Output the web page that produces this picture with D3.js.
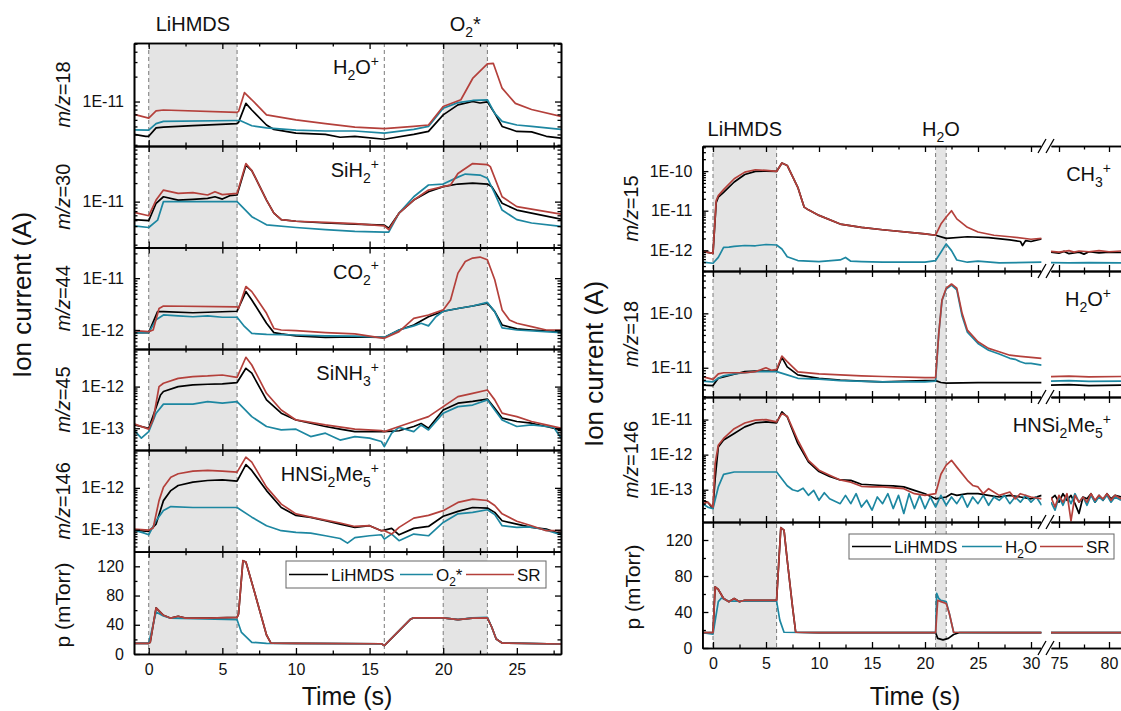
<!DOCTYPE html>
<html>
<head>
<meta charset="utf-8">
<script src="https://cdn.jsdelivr.net/npm/d3@7"></script>
<style>
  body { margin: 0; background: #fff; }
  svg { font-family: "Liberation Sans", Arial, Helvetica, sans-serif; }
</style>
</head>
<body>
<svg id="chart" width="1121" height="711"></svg>
<script>
// ---------- data: left figure (LiHMDS / O2* / SR), [time s, value] ----------
const l18_lihmds = [[-1,4.0e-12],[-0.2,3.8e-12],[0,3.8e-12],[0.5,4.8e-12],[1,4.9e-12],[3,5.1e-12],[6,5.4e-12],[6.1,5.6e-12],[6.6,9.5e-12],[7,7.9e-12],[8,5.2e-12],[8.5,4.6e-12],[10,4.15e-12],[12,4.0e-12],[13,3.7e-12],[14,3.8e-12],[16,3.5e-12],[18,4.0e-12],[19,4.35e-12],[20,6.9e-12],[21,9.1e-12],[22,1.0e-11],[22.5,9.6e-12],[23,9.9e-12],[23.5,7.2e-12],[24,5.0e-12],[25,4.35e-12],[26,4.3e-12],[27,3.8e-12],[28,3.6e-12]]
const l18_o2 = [[-1,4.55e-12],[0,4.5e-12],[0.5,5.4e-12],[1,5.75e-12],[6,5.9e-12],[6.2,5.9e-12],[7,5.1e-12],[8,4.8e-12],[10,4.5e-12],[12,4.4e-12],[14,4.4e-12],[16,4.15e-12],[18,4.6e-12],[19,5.0e-12],[20,8.3e-12],[21,9.7e-12],[22,1.03e-11],[23,1.05e-11],[23.5,7.2e-12],[24,5.75e-12],[25,5.2e-12],[26,5.0e-12],[28,4.6e-12]]
const l18_sr = [[-1,7.0e-12],[0,6.3e-12],[0.5,7.7e-12],[1,7.9e-12],[6,7.4e-12],[6.1,7.6e-12],[6.5,1.28e-11],[7,1.05e-11],[8,6.9e-12],[10,6.0e-12],[12,5.4e-12],[14,4.9e-12],[16,4.7e-12],[18,5.0e-12],[19,5.2e-12],[20,8.7e-12],[21.2,1.05e-11],[22,1.9e-11],[23,2.85e-11],[23.4,2.9e-11],[24,1.45e-11],[24.9,9.5e-12],[26,8.0e-12],[28,6.6e-12]]

const l30_lihmds = [[-1,5.1e-12],[0,4.9e-12],[0.5,9.4e-12],[1,1.2e-11],[2,1.06e-11],[3,1.09e-11],[4,1.13e-11],[4.5,1.2e-11],[5,1.1e-11],[5.5,1.25e-11],[6,1.28e-11],[6.6,3.9e-11],[7,3.2e-11],[8,1.06e-11],[8.5,6.5e-12],[9,5.1e-12],[10,4.8e-12],[12,4.5e-12],[14,4.3e-12],[16,4.15e-12],[16.3,3.7e-12],[17,6.5e-12],[18,1.06e-11],[19,1.45e-11],[20,1.75e-11],[21,1.93e-11],[22,2.0e-11],[23,1.93e-11],[23.3,1.75e-11],[24,9.4e-12],[25,7.3e-12],[28,5.2e-12]]
const l30_o2 = [[-1,4.05e-12],[0,3.8e-12],[0.6,5.0e-12],[1,1.0e-11],[6,1.0e-11],[7,5.7e-12],[8,4.2e-12],[10,3.8e-12],[12,3.5e-12],[14,3.3e-12],[16,3.2e-12],[16.3,3.2e-12],[17,6.5e-12],[18,1.2e-11],[19,1.86e-11],[20,1.93e-11],[21,2.5e-11],[21.5,2.8e-11],[22.5,2.7e-11],[23,2.4e-11],[23.5,1.36e-11],[24,7.3e-12],[25,5.1e-12],[26,4.5e-12],[28,3.95e-12]]
const l30_sr = [[-1,6.7e-12],[0,5.9e-12],[0.5,1.06e-11],[1,1.54e-11],[2,1.36e-11],[3,1.4e-11],[4,1.28e-11],[4.5,1.45e-11],[5,1.3e-11],[6,1.36e-11],[6.6,4.15e-11],[7,3.2e-11],[8,1.06e-11],[8.5,6.5e-12],[9,5.1e-12],[10,4.8e-12],[12,4.6e-12],[14,4.4e-12],[16,4.05e-12],[16.3,3.5e-12],[17,6.5e-12],[18,1.06e-11],[19,1.54e-11],[20,1.75e-11],[20.5,1.86e-11],[21,2.86e-11],[22,4.15e-11],[23,4.0e-11],[23.2,3.7e-11],[24,1.2e-11],[25,8.3e-12],[28,6.25e-12]]

const l44_lihmds = [[-1,8.9e-13],[0,8.9e-13],[0.6,2.26e-12],[1,2.26e-12],[3,2.15e-12],[4,2.2e-12],[6,2.3e-12],[6.6,5.5e-12],[7,3.8e-12],[8,1.35e-12],[8.5,8.9e-13],[9,8.4e-13],[10,7.7e-13],[12,7.2e-13],[14,7.4e-13],[16,7.2e-13],[17,1.0e-12],[18,1.25e-12],[19,1.8e-12],[20,2.3e-12],[21,2.6e-12],[22,2.9e-12],[23,3.3e-12],[23.5,2.26e-12],[24,1.25e-12],[25,1.05e-12],[26,1.0e-12],[28,9.3e-13]]
const l44_o2 = [[-1,8.9e-13],[0,8.9e-13],[0.5,1.58e-12],[1,1.95e-12],[2,1.87e-12],[3,1.8e-12],[4,1.87e-12],[5,1.76e-12],[6,1.76e-12],[6.5,1.17e-12],[7,8.6e-13],[8,8.2e-13],[10,8.0e-13],[12,7.7e-13],[14,7.6e-13],[16,7.2e-13],[17,1.0e-12],[18,1.2e-12],[18.5,1.35e-12],[19,1.2e-12],[19.5,1.8e-12],[20,2.3e-12],[21,2.6e-12],[22,2.9e-12],[23,3.4e-12],[23.5,2.26e-12],[24,1.1e-12],[25,1.0e-12],[28,8.9e-13]]
const l44_sr = [[-1,9.7e-13],[0,9.3e-13],[0.3,1.0e-12],[0.7,2.6e-12],[1,2.9e-12],[6,2.8e-12],[6.1,2.6e-12],[6.6,6.9e-12],[7,5.5e-12],[8,2.1e-12],[8.5,1.07e-12],[9,1.0e-12],[10,9.7e-13],[12,8.9e-13],[14,8.4e-13],[16,6.9e-13],[17,9.3e-13],[18,1.68e-12],[19,1.95e-12],[20,2.44e-12],[20.5,3.8e-12],[21,1.25e-11],[21.5,2.1e-11],[22,2.44e-11],[22.5,2.55e-11],[23,2.26e-11],[23.5,9.3e-12],[24,2.44e-12],[24.5,1.56e-12],[25,1.35e-12],[26,1.16e-12],[27,1.0e-12],[28,1.0e-12]]

const l45_lihmds = [[-1,1.2e-13],[0,1.0e-13],[0.8,6.3e-13],[1,7.6e-13],[2,1.0e-12],[3,1.1e-12],[4,1.14e-12],[5,1.16e-12],[6,1.25e-12],[6.6,2.75e-12],[7,2.1e-12],[8,4.8e-13],[9,2.3e-13],[10,1.58e-13],[12,1.1e-13],[13,9.5e-14],[14,8.3e-14],[16,8.3e-14],[17,8.7e-14],[18,1.1e-13],[18.5,1.3e-13],[19,1.0e-13],[20,2.75e-13],[21,4.0e-13],[22,4.4e-13],[23,5.0e-13],[23.5,3.0e-13],[24,1.75e-13],[25,1.45e-13],[26,1.32e-13],[27,1.1e-13],[28,9.1e-14]]
const l45_o2 = [[-1,9e-14],[-0.5,5.8e-14],[0,8.3e-14],[0.5,2.3e-13],[1,3.8e-13],[3,3.8e-13],[4,4.35e-13],[5,4.0e-13],[6,4.35e-13],[7,1.9e-13],[8,1.1e-13],[9,9.1e-14],[10,9.5e-14],[11,6.3e-14],[12,7.6e-14],[13,5.2e-14],[14,6.3e-14],[15,5.8e-14],[15.8,4.8e-14],[16,3.6e-14],[16.5,7.6e-14],[17,1.05e-13],[18,8.3e-14],[18.5,1.2e-13],[19,9.1e-14],[20,2.3e-13],[21,3.3e-13],[22,3.6e-13],[23,4.8e-13],[23.5,2.75e-13],[24,1.58e-13],[25,1.1e-13],[26,1.2e-13],[27,1.1e-13],[27.5,1.05e-13],[28,5.8e-14]]
const l45_sr = [[-1,1.27e-13],[0,9.5e-14],[0.3,1.6e-13],[0.7,1.0e-12],[1,1.2e-12],[2,1.58e-12],[3,1.74e-12],[4,1.8e-12],[5,1.9e-12],[6,1.67e-12],[6.6,5.06e-12],[7,3.3e-12],[8,6.9e-13],[9,2.75e-13],[10,1.58e-13],[12,1.2e-13],[14,9.5e-14],[15.8,8.8e-14],[16,8.3e-14],[17,1.1e-13],[18,1.45e-13],[19,1.9e-13],[20,3.3e-13],[21,5.75e-13],[22,6.9e-13],[23,8.3e-13],[23.5,4.8e-13],[24,2.3e-13],[25,1.9e-13],[26,1.45e-13],[27,1.2e-13],[28,1.0e-13]]

const l146_lihmds = [[-1,9.8e-14],[0,9.1e-14],[0.5,1.37e-13],[1,4.96e-13],[1.5,8.6e-13],[2,1.14e-12],[3,1.37e-12],[4,1.5e-12],[5,1.55e-12],[6,1.45e-12],[6.6,3.6e-12],[7,2.6e-12],[8,8.6e-13],[9,3.4e-13],[10,2.2e-13],[11,1.98e-13],[12,1.64e-13],[13,1.37e-13],[14,1.14e-13],[15,1.25e-13],[15.8,9.5e-14],[16,9.8e-14],[16.5,1.08e-13],[17,7.6e-14],[18,1.08e-13],[19,1.2e-13],[20,2.1e-13],[21,2.75e-13],[22,3.4e-13],[23,3.3e-13],[23.5,2.6e-13],[24,1.64e-13],[25,1.37e-13],[26,1.14e-13],[27,1.04e-13],[28,7.9e-14]]
const l146_o2 = [[-1,9.8e-14],[-0.3,8.3e-14],[0,7.6e-14],[0.5,1.65e-13],[1,2.9e-13],[1.5,3.57e-13],[3,3.4e-13],[6,3.4e-13],[7,2.0e-13],[8,1.25e-13],[9,9.5e-14],[10,8.7e-14],[11,8.3e-14],[12,7.2e-14],[13,6.2e-14],[13.5,4.8e-14],[14,6.5e-14],[15,7.2e-14],[15.8,7.6e-14],[16,6.0e-14],[16.5,7.9e-14],[17,5.5e-14],[18,7.9e-14],[19,7.2e-14],[20,1.5e-13],[21,2.4e-13],[22,2.6e-13],[23,3.0e-13],[23.5,2.3e-13],[24,1.25e-13],[25,1.14e-13],[26,1.17e-13],[27,9.8e-14],[28,7.6e-14]]
const l146_sr = [[-1,1.04e-13],[0,9.8e-14],[0.3,1.1e-13],[0.7,4.96e-13],[1,1.04e-12],[1.5,1.8e-12],[2,2.17e-12],[3,2.5e-12],[4,2.6e-12],[5,2.5e-12],[6,2.38e-12],[6.6,5.4e-12],[7,4.1e-12],[8,1.04e-12],[9,4.1e-13],[10,2.4e-13],[11,2.0e-13],[12,1.7e-13],[13,1.45e-13],[14,1.2e-13],[15,1.25e-13],[15.8,9.5e-14],[16,9.5e-14],[16.5,7.9e-14],[17,1.14e-13],[18,1.9e-13],[19,2.2e-13],[20,2.86e-13],[21,4.5e-13],[22,5.4e-13],[23,5.0e-13],[23.5,3.8e-13],[24,2.4e-13],[25,1.6e-13],[26,1.25e-13],[27,9.5e-14],[28,9.5e-14]]

const lp_lihmds = [[-1,14.5],[0,14.5],[0.1,16],[0.5,63],[1,53],[1.5,49],[2,51.6],[2.5,49],[4,49],[6,50],[6.1,55],[6.4,127.7],[6.6,126],[7,98],[8,26],[8.3,15],[10,14.5],[15.8,14],[16,11.5],[17.8,48],[18,49.5],[20,49.5],[21,47],[22,49],[23,49.5],[23.3,36.6],[23.6,20.6],[24,15],[28,13.7]]
const lp_o2 = [[-1,14.5],[0,14.5],[0.5,57.5],[1,52],[1.5,49],[6,47],[6.3,29.5],[7,16],[8,14.5],[15.8,14],[16,11.5],[17.8,48],[18,49.5],[20,49.5],[21,47],[22,49.5],[23,50],[23.3,36.6],[23.6,20.6],[24,15],[28,13.7]]
const lp_sr = [[-1,14.5],[0,14.5],[0.1,16],[0.5,63],[1,53],[1.5,49],[2,51.6],[2.5,49],[4,49],[6,50],[6.1,55],[6.4,127.7],[6.6,126],[7,98],[8,26],[8.3,15],[10,14.5],[15.8,14],[16,11.5],[17.8,48],[18,49.5],[20,49.5],[21,47],[22,49],[23,49.5],[23.3,36.6],[23.6,20.6],[24,15],[28,13.7]]

// ---------- data: right figure (LiHMDS / H2O / SR), second block after the axis break ----------
const r15_lihmds = [[-1,9.4e-13],[0,8.4e-13],[0.3,1.6e-11],[0.5,2.2e-11],[1,2.9e-11],[2,5.3e-11],[3,8.2e-11],[4,9.8e-11],[5,1.0e-10],[6,9.8e-11],[6.5,1.6e-10],[7,1.39e-10],[8,3.9e-11],[8.6,1.23e-11],[9,1.05e-11],[10,7.6e-12],[12,4.6e-12],[14,3.8e-12],[16,3.3e-12],[20,2.6e-12],[21,2.4e-12],[22,2.0e-12],[24,2.2e-12],[26,2.1e-12],[28,1.83e-12],[29,1.67e-12],[29.2,1.32e-12],[29.5,1.76e-12],[30,1.67e-12],[31,1.94e-12],
  [74.2,9.0e-13],[75,8.5e-13],[75.5,9.4e-13],[76,8.2e-13],[77,9.0e-13],[77.5,8.0e-13],[78,9.2e-13],[79,8.6e-13],[80,9.0e-13],[81.2,8.8e-13]]
const r15_h2o = [[-1,5e-13],[0,4.7e-13],[0.5,6.6e-13],[1,1.19e-12],[1.5,1.2e-12],[2,1.25e-12],[3,1.32e-12],[4,1.3e-12],[5,1.4e-12],[6,1.36e-12],[6.5,1.08e-12],[7,6.9e-13],[8,5.5e-13],[10,5.2e-13],[12,5.7e-13],[12.5,6.6e-13],[13,5.3e-13],[14,5.2e-13],[16,5e-13],[20,5e-13],[21,5.5e-13],[21.5,8.9e-13],[22,1.45e-12],[22.5,9.8e-13],[23,5.7e-13],[24,5e-13],[25,5.3e-13],[27,4.8e-13],[31,5e-13],
  [74.2,4.9e-13],[76,4.8e-13],[78,4.9e-13],[81.2,4.8e-13]]
const r15_sr = [[-1,9.4e-13],[0,8.4e-13],[0.3,1.8e-11],[0.5,2.4e-11],[1,3.4e-11],[2,6.4e-11],[3,9.4e-11],[4,1.08e-10],[5,1.04e-10],[6,9.8e-11],[6.5,1.6e-10],[7,1.39e-10],[8,3.9e-11],[8.6,1.23e-11],[9,1.05e-11],[10,7.6e-12],[12,4.6e-12],[14,3.8e-12],[16,3.3e-12],[20,2.6e-12],[21,2.4e-12],[21.5,4.6e-12],[22,6.9e-12],[22.5,1.0e-11],[23,6.2e-12],[24,3.8e-12],[25,2.9e-12],[26.5,2.4e-12],[28,2.2e-12],[30,1.9e-12],[31,2.0e-12],
  [74.2,9.4e-13],[75,9.0e-13],[76,9.8e-13],[76.5,9.0e-13],[77,9.6e-13],[78,9.2e-13],[79,9.8e-13],[80,9.2e-13],[81.2,9.6e-13]]

const r18_lihmds = [[-1,4.8e-12],[0,4.7e-12],[0.5,6.4e-12],[1,6.8e-12],[2,7.6e-12],[3,8.5e-12],[4,8.7e-12],[5,8.7e-12],[6,8.8e-12],[6.5,1.55e-11],[7,1.04e-11],[8,7.4e-12],[10,6.4e-12],[12,5.95e-12],[14,5.7e-12],[16,5.5e-12],[20,5.8e-12],[21,5.8e-12],[21.5,5.35e-12],[22,5.2e-12],[25,5.35e-12],[31,5.35e-12],
  [74.2,4.8e-12],[76,4.9e-12],[78,4.7e-12],[81.2,4.8e-12]]
const r18_h2o = [[-1,5.7e-12],[0,5.5e-12],[0.5,6.4e-12],[1,7.1e-12],[2,7.7e-12],[3,8.1e-12],[4,8.5e-12],[6,8.5e-12],[7,7.4e-12],[8,6.4e-12],[10,6.2e-12],[12,5.8e-12],[16,5.5e-12],[20,5.5e-12],[21,5.7e-12],[21.3,4.3e-11],[21.6,1.7e-10],[22,2.8e-10],[22.5,3.3e-10],[23,2.7e-10],[23.5,8.9e-11],[24,4.5e-11],[25,2.8e-11],[26,2.1e-11],[27,1.79e-11],[28,1.49e-11],[28.5,1.43e-11],[29,1.29e-11],[29.5,1.2e-11],[30,1.2e-11],[31,1.12e-11],
  [74.2,5.7e-12],[76,5.8e-12],[78,5.6e-12],[81.2,5.7e-12]]
const r18_sr = [[-1,6.85e-12],[0,6.1e-12],[0.5,7.7e-12],[1,8.1e-12],[3,8.1e-12],[4,8.5e-12],[4.5,9.2e-12],[5,1.0e-11],[5.5,9.0e-12],[6,9.3e-12],[6.5,1.64e-11],[7,1.3e-11],[8,8.4e-12],[10,7.7e-12],[12,7.4e-12],[14,7.1e-12],[16,6.9e-12],[20,6.6e-12],[21,6.6e-12],[21.3,4.3e-11],[21.6,1.76e-10],[22,2.9e-10],[22.5,3.46e-10],[23,2.9e-10],[23.5,1.0e-10],[24,4.9e-11],[25,3.0e-11],[26,2.27e-11],[27,1.97e-11],[28,1.7e-11],[29,1.62e-11],[30,1.55e-11],[31,1.49e-11],
  [74.2,6.85e-12],[76,7.0e-12],[78,6.8e-12],[81.2,6.9e-12]]

const r146_lihmds = [[-1,5.0e-14],[-0.5,4.4e-14],[0,2.9e-14],[0.2,2.0e-13],[0.5,1.66e-12],[1,2.6e-12],[2,4.0e-12],[3,6.2e-12],[4,8.0e-12],[5,8.6e-12],[6,8.0e-12],[6.5,1.66e-11],[7,1.2e-11],[8,2.1e-12],[9,6.2e-13],[10,3.3e-13],[11,2.4e-13],[12,1.9e-13],[13,1.85e-13],[14,1.43e-13],[16,1.32e-13],[17,1.28e-13],[18,1.2e-13],[19,9.6e-14],[20,7.7e-14],[21,5.5e-14],[22,6.2e-14],[22.5,7.7e-14],[23,6.9e-14],[24,7.7e-14],[25,7.7e-14],[26,6.9e-14],[27,6.2e-14],[28,6.9e-14],[29,6.2e-14],[30,5.5e-14],[31,6.9e-14],
  [74.2,5.5e-14],[74.6,6.9e-14],[75,4.4e-14],[75.4,7.7e-14],[75.8,5.0e-14],[76.2,6.9e-14],[76.6,4.0e-14],[77,2.1e-14],[77.4,6.2e-14],[77.8,5.5e-14],[78.2,7.7e-14],[78.6,4.4e-14],[79,6.9e-14],[79.4,5.0e-14],[79.8,7.7e-14],[80.2,5.5e-14],[80.6,6.9e-14],[81.2,6.2e-14]]
const r146_h2o = [[-1,4.0e-14],[-0.5,3.2e-14],[0,2.9e-14],[0.5,1.2e-13],[1,2.75e-13],[2,3.2e-13],[4,3.2e-13],[6,3.2e-13],[7,1.3e-13],[7.5,1.0e-13],[8,9e-14],[8.5,1.1e-13],[9,6.9e-14],[9.5,9.6e-14],[10,5.0e-14],[10.5,8.2e-14],[11,5.5e-14],[12,4.0e-14],[12.5,6.9e-14],[13,4.0e-14],[13.5,7.7e-14],[14,3.2e-14],[14.5,5.0e-14],[15,2.6e-14],[15.5,6.2e-14],[16,4.0e-14],[16.5,7.7e-14],[17,2.9e-14],[17.5,6.9e-14],[18,2.1e-14],[18.5,7.7e-14],[19,2.9e-14],[19.5,6.9e-14],[20,2.9e-14],[20.5,6.2e-14],[21,3.2e-14],[21.5,6.9e-14],[22,3.6e-14],[22.5,6.2e-14],[23,4.0e-14],[23.5,6.9e-14],[24,3.2e-14],[24.5,6.2e-14],[25,4.0e-14],[25.5,6.9e-14],[26,3.6e-14],[26.5,6.2e-14],[27,5.0e-14],[27.5,6.9e-14],[28,4.0e-14],[28.5,6.2e-14],[29,4.4e-14],[29.5,6.9e-14],[30,4.4e-14],[30.5,6.2e-14],[31,3.6e-14],
  [74.2,4.4e-14],[74.6,2.6e-14],[75,6.2e-14],[75.4,3.6e-14],[75.8,6.9e-14],[76.2,4.0e-14],[76.6,7.7e-14],[77,4.4e-14],[77.4,6.2e-14],[77.8,3.6e-14],[78.2,6.9e-14],[78.6,4.4e-14],[79,6.2e-14],[79.4,5.0e-14],[79.8,6.9e-14],[80.2,4.4e-14],[80.6,6.2e-14],[81.2,5.0e-14]]
const r146_sr = [[-1,4.0e-14],[-0.5,4.4e-14],[0,3.2e-14],[0.2,5.5e-13],[0.5,1.85e-12],[1,2.9e-12],[2,5.5e-12],[3,8.0e-12],[4,9.6e-12],[5,1.0e-11],[6,8.6e-12],[6.5,1.48e-11],[7,1.25e-11],[8,2.57e-12],[9,6.9e-13],[10,3.6e-13],[11,2.6e-13],[12,1.9e-13],[13,1.64e-13],[14,1.25e-13],[15,1.2e-13],[16,1.2e-13],[18,1.07e-13],[19,7.7e-14],[20,6.9e-14],[21,7.7e-14],[21.5,2.75e-13],[22,5.0e-13],[22.5,6.9e-13],[23,4.4e-13],[24,1.85e-13],[24.5,1.32e-13],[25,1.2e-13],[25.5,7.7e-14],[26,1.07e-13],[27,6.9e-14],[28,8.6e-14],[28.5,5.5e-14],[29,7.7e-14],[30,6.2e-14],[31,5.5e-14],
  [74.2,6.2e-14],[74.6,3.2e-14],[75,6.9e-14],[75.4,4.4e-14],[75.8,7.7e-14],[76.2,1.3e-14],[76.6,6.9e-14],[77,4.4e-14],[77.4,6.2e-14],[77.8,4.4e-14],[78.2,7.7e-14],[78.6,5.0e-14],[79,6.9e-14],[79.4,5.5e-14],[79.8,7.7e-14],[80.2,5.0e-14],[80.6,6.9e-14],[81.2,5.5e-14]]

const rp_lihmds = [[-1,17],[0,17],[0.2,68],[0.5,65],[1,55],[1.5,51.5],[2,55],[2.5,51.5],[3,53],[6,53],[6.2,94],[6.4,133.7],[6.7,131],[7,98],[7.5,46],[7.8,17.5],[10,17],[21,17],[21.2,10.7],[21.7,9],[22.2,10.7],[22.7,15],[23.2,17],[31,17],
  [74.2,17],[81.2,17]]
const rp_h2o = [[-1,17],[0,15.5],[0.5,51.5],[0.8,55.5],[1.5,52],[6,52],[6.3,31],[6.7,17.5],[10,17],[21,17],[21.1,60.7],[21.3,55],[21.5,53],[22,51.5],[22.3,38],[22.7,17.5],[31,17],
  [74.2,17],[81.2,17]]
const rp_sr = [[-1,17],[0,17],[0.2,68],[0.5,65],[1,55],[1.5,51.5],[2,55],[2.5,51.5],[3,53],[6,53],[6.2,94],[6.4,133.7],[6.7,131],[7,98],[7.5,46],[7.8,17.5],[10,17],[21,17],[21.2,53],[21.5,51.5],[22,49.5],[22.3,38],[22.7,17.5],[31,17],
  [74.2,17],[81.2,17]]

// axis ranges and ticks
const leftTime = [-1, 28]
const leftMajor = [0, 5, 10, 15, 20, 25]
const leftMinor = [2.5, 7.5, 12.5, 17.5, 22.5, 27.5]
const rightTime1 = [-1, 31]
const rightMajor1 = [0, 5, 10, 15, 20, 25, 30]
const rightMinor1 = [2.5, 7.5, 12.5, 17.5, 22.5, 27.5]
const rightTime2 = [74.2, 81.2]
const rightMajor2 = [75, 80]
const rightMinor2 = [77.5]
const pressureMajor = [0, 40, 80, 120]
const pressureMinor = [20, 60, 100]
const legendLeft = ['LiHMDS', 'O_{2}*', 'SR']
const legendRight = ['LiHMDS', 'H_{2}O', 'SR']

const COLORS = ['#000000', '#1d87a1', '#b4403b']
const svg = d3.select('#chart')

// text with _{sub} and ^{sup}
function rich (text, str, size) {
    let shift = 0
    const re = /([_^])\{([^}]*)\}|([^_^]+)/g
    let m
    while ((m = re.exec(str)) !== null) {
        let target = 0, fs = size, t = m[3]
        if (m[1] === '_') { target = size * 0.3; fs = size * 0.7; t = m[2] }
        if (m[1] === '^') { target = -size * 0.42; fs = size * 0.7; t = m[2] }
        text.append('tspan').attr('dy', target - shift).attr('font-size', fs).text(t)
        shift = target
    }
    return text
}

function styleAxis (g) {
    g.select('.domain').attr('stroke', '#000').attr('stroke-width', 1.6)
    g.selectAll('.tick line').attr('stroke', '#000').attr('stroke-width', 1.3)
    g.selectAll('.tick text').attr('font-size', 16).attr('fill', '#111')
        .attr('font-family', '"Liberation Sans", Arial, sans-serif')
}

const logFmt = d => '1E' + Math.round(Math.log10(d))
const isDecade = d => Math.abs(Math.log10(d) - Math.round(Math.log10(d))) < 1e-6

function drawFigure (fig) {
    const g = svg.append('g')
    const top = fig.rows[0]
    const bottom = fig.rows[fig.rows.length - 1]
    const x0 = fig.segs[0].x

    fig.shade.forEach(([a, b]) => {
        g.append('rect')
            .attr('x', x0(a)).attr('y', top)
            .attr('width', x0(b) - x0(a)).attr('height', bottom - top)
            .attr('fill', '#e4e4e4')
    })
    fig.dashes.forEach(t => {
        g.append('line')
            .attr('x1', x0(t)).attr('x2', x0(t)).attr('y1', top).attr('y2', bottom)
            .attr('stroke', '#7a7a7a').attr('stroke-width', 1).attr('stroke-dasharray', '4,3')
    })

    fig.panels.forEach((panel, i) => {
        const y0 = fig.rows[i]
        const y1 = fig.rows[i + 1]
        const y = panel.log
            ? d3.scaleLog().domain(panel.domain).range([y1, y0])
            : d3.scaleLinear().domain(panel.domain).range([y1, y0])
        const last = i === fig.panels.length - 1

        fig.segs.forEach((seg, si) => {
            const [xa, xb] = seg.x.range()
            const [da, db] = seg.x.domain()
            const id = `clip-${fig.id}-${i}-${si}`
            svg.append('clipPath').attr('id', id).append('rect')
                .attr('x', xa).attr('y', y0).attr('width', xb - xa).attr('height', y1 - y0)
            const line = d3.line().x(d => seg.x(d[0])).y(d => y(d[1]))
            panel.series.forEach((data, k) => {
                const pts = data.filter(d => d[0] >= da - 0.5 && d[0] <= db + 0.5)
                if (pts.length < 2) return
                g.append('path').datum(pts)
                    .attr('d', line)
                    .attr('clip-path', `url(#${id})`)
                    .attr('fill', 'none')
                    .attr('stroke', COLORS[k])
                    .attr('stroke-width', 1.7)
                    .attr('stroke-linejoin', 'round')
            })

            // top and bottom frame with inward ticks
            g.append('g').attr('transform', `translate(0,${y0})`)
                .call(d3.axisTop(seg.x).tickValues(seg.minor).tickSize(-3.5).tickSizeOuter(0).tickFormat(''))
                .call(styleAxis)
            g.append('g').attr('transform', `translate(0,${y0})`)
                .call(d3.axisTop(seg.x).tickValues(seg.major).tickSize(-6).tickSizeOuter(0).tickFormat(''))
                .call(styleAxis)
            g.append('g').attr('transform', `translate(0,${y1})`)
                .call(d3.axisBottom(seg.x).tickValues(seg.minor).tickSize(-3.5).tickSizeOuter(0).tickFormat(''))
                .call(styleAxis)
            g.append('g').attr('transform', `translate(0,${y1})`)
                .call(d3.axisBottom(seg.x).tickValues(seg.major).tickSize(-6).tickSizeOuter(0)
                    .tickPadding(10).tickFormat(last ? d3.format('d') : ''))
                .call(styleAxis)
        })

        // y axes
        let major, minor, fmt
        if (panel.log) {
            const all = y.ticks(20)
            major = all.filter(isDecade)
            minor = all.filter(d => !isDecade(d))
            fmt = logFmt
        } else {
            major = pressureMajor
            minor = pressureMinor
            fmt = d3.format('d')
        }
        const xl = x0.range()[0]
        g.append('g').attr('transform', `translate(${xl},0)`)
            .call(d3.axisLeft(y).tickValues(minor).tickSize(-3.5).tickSizeOuter(0).tickFormat(''))
            .call(styleAxis)
        g.append('g').attr('transform', `translate(${xl},0)`)
            .call(d3.axisLeft(y).tickValues(major).tickSize(-6).tickSizeOuter(0).tickPadding(10).tickFormat(fmt))
            .call(styleAxis)
        if (fig.rightAxis) {
            const xr = fig.segs[fig.segs.length - 1].x.range()[1]
            g.append('g').attr('transform', `translate(${xr},0)`)
                .call(d3.axisRight(y).tickValues(minor).tickSize(-3.5).tickSizeOuter(0).tickFormat(''))
                .call(styleAxis)
            g.append('g').attr('transform', `translate(${xr},0)`)
                .call(d3.axisRight(y).tickValues(major).tickSize(-6).tickSizeOuter(0).tickFormat(''))
                .call(styleAxis)
        }

        // labels
        const mid = (y0 + y1) / 2
        if (panel.mz) {
            const t = g.append('text')
                .attr('transform', `translate(${fig.mzX},${mid}) rotate(-90)`)
                .attr('text-anchor', 'middle').attr('font-size', 20).attr('fill', '#111')
            t.append('tspan').attr('font-style', 'italic').text('m/z')
            t.append('tspan').text('=' + panel.mz)
        } else {
            g.append('text')
                .attr('transform', `translate(${fig.pX},${fig.pY}) rotate(-90)`)
                .attr('text-anchor', 'middle').attr('font-size', 21).attr('fill', '#111')
                .text('p (mTorr)')
        }
        if (panel.ion) {
            rich(g.append('text')
                .attr('x', fig.ionX).attr('y', y0 + fig.ionDy)
                .attr('text-anchor', 'end').attr('font-size', 20).attr('fill', '#111'), panel.ion, 20)
        }
    })

    // region labels above
    fig.regions.forEach(([t, label]) => {
        rich(g.append('text').attr('x', x0(t)).attr('y', fig.regionY)
            .attr('text-anchor', 'middle').attr('font-size', 20).attr('fill', '#111'), label, 20)
    })

    g.append('text')
        .attr('transform', `translate(${fig.ionTitle[0]},${fig.ionTitle[1]}) rotate(-90)`)
        .attr('text-anchor', 'middle').attr('font-size', 26).attr('fill', '#111')
        .text('Ion current (A)')
    g.append('text').attr('x', fig.timeTitle[0]).attr('y', fig.timeTitle[1])
        .attr('text-anchor', 'middle').attr('font-size', 25).attr('fill', '#111')
        .text('Time (s)')

    // legend
    const L = fig.legend
    g.append('rect').attr('x', L.x).attr('y', L.y).attr('width', L.w).attr('height', L.h)
        .attr('fill', '#fff').attr('stroke', '#666').attr('stroke-width', 1)
    L.items.forEach((it, k) => {
        const cy = L.y + L.h / 2
        g.append('line').attr('x1', it[0]).attr('x2', it[1]).attr('y1', cy).attr('y2', cy)
            .attr('stroke', COLORS[k]).attr('stroke-width', 1.7)
        rich(g.append('text').attr('x', it[1] + 3).attr('y', cy + 6)
            .attr('font-size', 17).attr('fill', '#111'), L.labels[k], 17)
    })

    // axis break marks
    if (fig.breakX) {
        fig.rows.forEach(ry => {
            g.append('rect').attr('x', fig.breakX - 5).attr('y', ry - 2).attr('width', 10).attr('height', 4).attr('fill', '#fff')
            ;[-4, 4].forEach(off => {
                g.append('line')
                    .attr('x1', fig.breakX + off - 4).attr('y1', ry + 7)
                    .attr('x2', fig.breakX + off + 4).attr('y2', ry - 7)
                    .attr('stroke', '#000').attr('stroke-width', 1.3)
            })
        })
    }
}

drawFigure({
    id: 'L',
    rows: [43, 146, 247.5, 349, 450, 551.7, 654],
    segs: [{ x: d3.scaleLinear().domain(leftTime).range([134, 561]), major: leftMajor, minor: leftMinor }],
    shade: [[0, 6], [20, 23]],
    dashes: [0, 6, 16, 20, 23],
    rightAxis: true,
    panels: [
        { mz: '18', ion: 'H_{2}O^{+}', log: true, domain: [2.9e-12, 5.1e-11], series: [l18_lihmds, l18_o2, l18_sr] },
        { mz: '30', ion: 'SiH_{2}^{+}', log: true, domain: [1.8e-12, 8e-11], series: [l30_lihmds, l30_o2, l30_sr] },
        { mz: '44', ion: 'CO_{2}^{+}', log: true, domain: [4.3e-13, 3.9e-11], series: [l44_lihmds, l44_o2, l44_sr] },
        { mz: '45', ion: 'SiNH_{3}^{+}', log: true, domain: [3e-14, 8e-12], series: [l45_lihmds, l45_o2, l45_sr] },
        { mz: '146', ion: 'HNSi_{2}Me_{5}^{+}', log: true, domain: [3e-14, 8e-12], series: [l146_lihmds, l146_o2, l146_sr] },
        { log: false, domain: [0, 140], series: [lp_lihmds, lp_o2, lp_sr] }
    ],
    mzX: 70, pX: 70, pY: 605,
    ionX: 379, ionDy: 31,
    regions: [[3, 'LiHMDS'], [21.5, 'O_{2}*']], regionY: 31,
    ionTitle: [31, 295], timeTitle: [347, 705],
    legend: { x: 286, y: 561, w: 260, h: 27, labels: legendLeft, items: [[289, 328], [400, 433], [466, 514]] }
})

drawFigure({
    id: 'R',
    rows: [146, 271, 397, 522, 648],
    segs: [
        { x: d3.scaleLinear().domain(rightTime1).range([702.4, 1041.6]), major: rightMajor1, minor: rightMinor1 },
        { x: d3.scaleLinear().domain(rightTime2).range([1051, 1121]), major: rightMajor2, minor: rightMinor2 }
    ],
    shade: [[0, 6], [21, 22]],
    dashes: [0, 6, 21, 22],
    rightAxis: false,
    breakX: 1046,
    panels: [
        { mz: '15', ion: 'CH_{3}^{+}', log: true, domain: [3e-13, 4.3e-10], series: [r15_lihmds, r15_h2o, r15_sr] },
        { mz: '18', ion: 'H_{2}O^{+}', log: true, domain: [2.9e-12, 6e-10], series: [r18_lihmds, r18_h2o, r18_sr] },
        { mz: '146', ion: 'HNSi_{2}Me_{5}^{+}', log: true, domain: [1.2e-14, 4.4e-11], series: [r146_lihmds, r146_h2o, r146_sr] },
        { log: false, domain: [0, 140], series: [rp_lihmds, rp_h2o, rp_sr] }
    ],
    mzX: 638, pX: 640, pY: 587,
    ionX: 1111, ionDy: 35,
    regions: [[3, 'LiHMDS'], [21.5, 'H_{2}O']], regionY: 136,
    ionTitle: [603, 364], timeTitle: [915, 705],
    legend: { x: 849, y: 534, w: 265, h: 25, labels: legendRight, items: [[852, 891], [962, 1002], [1040, 1083]] }
})
</script>
</body>
</html>
